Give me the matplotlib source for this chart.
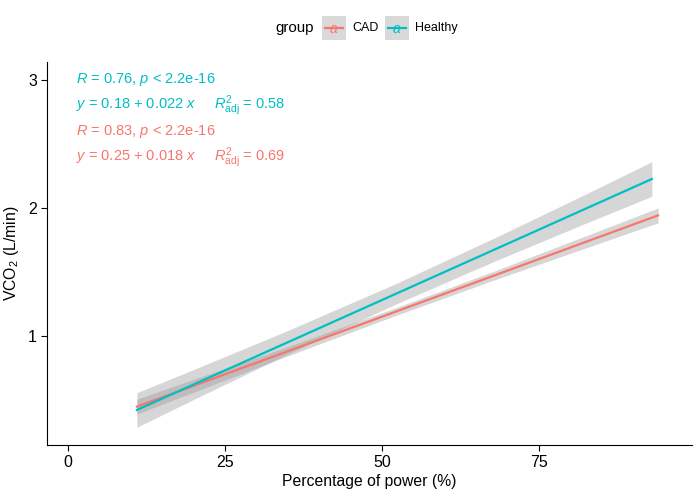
import matplotlib
matplotlib.use('Agg')
import matplotlib.pyplot as plt
from matplotlib.patches import Rectangle
from matplotlib.lines import Line2D

plt.rcParams['font.family'] = ['Liberation Sans', 'DejaVu Sans']
plt.rcParams['mathtext.fontset'] = 'custom'
plt.rcParams['mathtext.rm'] = 'Liberation Sans'
plt.rcParams['mathtext.it'] = 'Liberation Sans:italic'

cad_color = '#F8766D'
healthy_color = '#00BFC4'

groups = ['CAD', 'Healthy']

# fitted lines and confidence bands
cad_x = [11, 20, 35, 52, 68, 82, 94]
cad_fit = [0.448, 0.61, 0.88, 1.186, 1.474, 1.726, 1.942]
cad_half = [0.058, 0.050, 0.036, 0.030, 0.035, 0.047, 0.058]

healthy_x = [11, 20, 35, 52, 68, 82, 93]
healthy_fit = [0.422, 0.62, 0.95, 1.324, 1.676, 1.984, 2.226]
healthy_half = [0.135, 0.117, 0.092, 0.080, 0.091, 0.113, 0.135]

labels_healthy = ['$R$ = 0.76, $p$ < 2.2e-16',
                  '$y$ = 0.18 + 0.022 $x$     $R^{2}_{\\mathrm{adj}}$ = 0.58']
labels_cad = ['$R$ = 0.83, $p$ < 2.2e-16',
              '$y$ = 0.25 + 0.018 $x$     $R^{2}_{\\mathrm{adj}}$ = 0.69']
label_y = [3.0, 2.797, 2.60, 2.395]

x_ticks = [0, 25, 50, 75]
y_ticks = [1, 2, 3]

fig = plt.figure(figsize=(6.99, 4.97), dpi=100)
ax = fig.add_axes([0.067, 0.1046, 0.923, 0.7706])

for xs, fit, half, col in [(healthy_x, healthy_fit, healthy_half, healthy_color),
                           (cad_x, cad_fit, cad_half, cad_color)]:
    lo = [f - h for f, h in zip(fit, half)]
    hi = [f + h for f, h in zip(fit, half)]
    ax.fill_between(xs, lo, hi, color='#999999', alpha=0.4, linewidth=0)

for xs, fit, col in [(cad_x, cad_fit, cad_color), (healthy_x, healthy_fit, healthy_color)]:
    ax.plot(xs, fit, color=col, linewidth=1.6)

for txt, yy in zip(labels_healthy + labels_cad, label_y):
    col = healthy_color if txt in labels_healthy else cad_color
    ax.text(1.3, yy, txt, color=col, fontsize=10.5, va='center', ha='left')

ax.set_xlim(-3.34, 99.4)
ax.set_ylim(0.148, 3.14)
ax.set_xticks(x_ticks)
ax.set_yticks(y_ticks)
ax.tick_params(labelsize=11.5, length=4, width=0.8, colors='black', pad=3)
ax.spines['top'].set_visible(False)
ax.spines['right'].set_visible(False)
ax.spines['left'].set_linewidth(0.8)
ax.spines['bottom'].set_linewidth(0.8)
ax.set_xlabel('Percentage of power (%)', fontsize=11.3, labelpad=3)
ax.set_ylabel('VCO$_2$ (L/min)', fontsize=11.3, labelpad=5)

# legend drawn by hand, ggplot style
ly = 1 - 28 / 497
fig.text(275 / 699, ly, 'group', fontsize=10.8, va='center', ha='left')
key_x = [322, 385]
for kx, g, col in zip(key_x, groups, [cad_color, healthy_color]):
    x0 = kx / 699
    w = 24 / 699
    h = 24 / 497
    fig.add_artist(Rectangle((x0, ly - h / 2), w, h, transform=fig.transFigure,
                             facecolor='#d9d9d9', edgecolor='none'))
    fig.add_artist(Line2D([x0 + 3 / 699, x0 + w - 3 / 699], [ly, ly], transform=fig.transFigure,
                          color=col, linewidth=1.6))
    fig.text(x0 + w / 2, ly - 1 / 497, 'a', color=col, fontsize=10, style='italic',
             ha='center', va='center')
    fig.text(x0 + w + 6 / 699, ly, g, fontsize=9, va='center', ha='left')

fig.savefig('out.png', dpi=100)
